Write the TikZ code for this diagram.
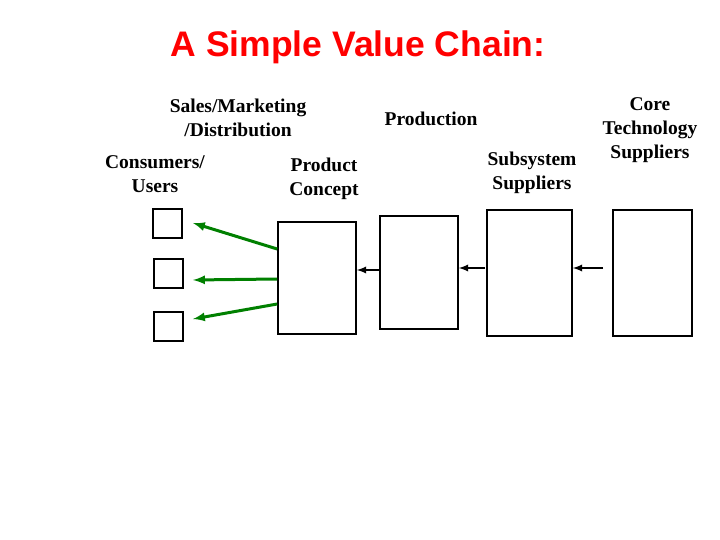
\documentclass[tikz,border=0pt]{standalone}
\usepackage{fontspec}
\setmainfont{Liberation Serif}
\newfontfamily\arialf{Liberation Sans}
\begin{document}
\begin{tikzpicture}[x=1pt,y=-1pt,
 box/.style={draw,line width=1.6pt},
 lbl/.style={font=\bfseries\fontsize{19.5}{24}\selectfont,align=center,inner sep=0},
 garr/.style={draw={rgb,255:red,0;green,128;blue,0},line width=3pt,-latex},
 barr/.style={draw,line width=2.2pt,-latex}]
\useasboundingbox (0,0) rectangle (720,540);
\node[font=\arialf\bfseries\fontsize{35.5}{40}\selectfont,text=red] (title) at (358,47) {A Simple Value Chain:};
\node[lbl] (sm) at (238,118) {Sales/Marketing\\/Distribution};
\node[lbl] (prod) at (431,119) {Production};
\node[lbl] (cu) at (155,174) {Consumers/\\Users};
\node[lbl] (pc) at (324,179) {Product\\Concept};
\node[lbl] (ss) at (532,173) {Subsystem\\Suppliers};
\node[lbl] (ct) at (650,130) {Core\\Technology\\Suppliers};
\draw[box] (153,209) rectangle (182,238) coordinate (s1);
\draw[box] (154,259) rectangle (183,288) coordinate (s2);
\draw[box] (154,312) rectangle (183,341) coordinate (s3);
\node[box,minimum width=78pt,minimum height=112pt,inner sep=0] (b1) at (317,278) {};
\node[box,minimum width=78pt,minimum height=113pt,inner sep=0] (b2) at (419,272.5) {};
\node[box,minimum width=85pt,minimum height=126pt,inner sep=0] (b3) at (529.5,273) {};
\node[box,minimum width=79pt,minimum height=126pt,inner sep=0] (b4) at (652.5,273) {};
\coordinate (g1) at (193,223); \coordinate (g2) at (193,280); \coordinate (g3) at (193,319);
\draw[garr] (b1.west |- 0,249) -- (g1);
\draw[garr] (b1.west |- 0,279) -- (g2);
\draw[garr] (b1.west |- 0,304) -- (g3);
\draw[barr] (b2.west |- 0,270) -- (b1.east |- 0,270);
\coordinate (a2) at (485,268); \coordinate (a3) at (603,268);
\draw[barr] (a2) -- (b2.east |- 0,268);
\draw[barr] (a3) -- (b3.east |- 0,268);
\end{tikzpicture}
\end{document}
